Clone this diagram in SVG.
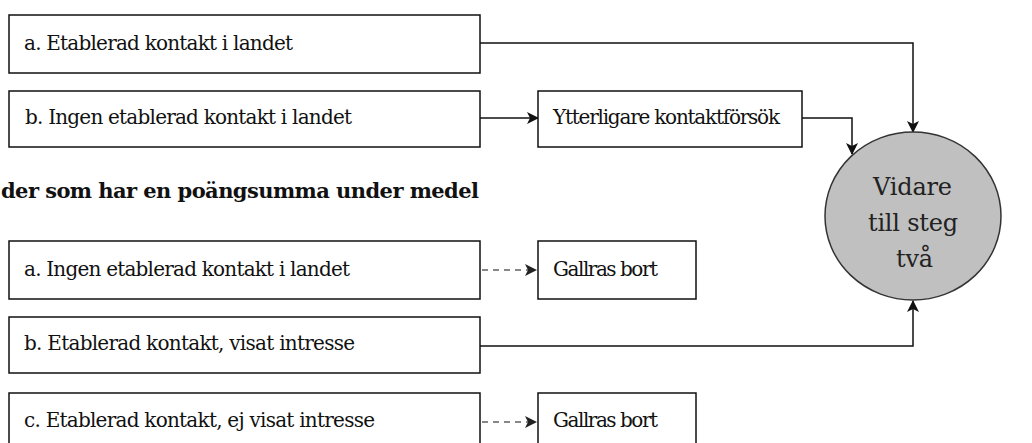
<svg xmlns="http://www.w3.org/2000/svg" width="1032" height="443" viewBox="0 0 1032 443">
  <style>
    text { font-family: "DejaVu Serif", serif; }
    .box { fill: #ffffff; stroke: #111111; stroke-width: 1.5; }
    .lbl { font-size: 20px; fill: #111111; }
    .head { font-size: 21px; font-weight: bold; fill: #111111; }
    .goal { font-size: 24px; fill: #222222; }
    .link { fill: none; stroke: #111111; stroke-width: 1.5; }
    .drop { fill: none; stroke: #888888; stroke-width: 2; stroke-dasharray: 6 5; }
  </style>
  <defs>
    <marker id="arrow" markerWidth="12" markerHeight="12" refX="11" refY="6" orient="auto" markerUnits="userSpaceOnUse">
      <path d="M0,0 L12,6 L0,12 L3,6 Z" fill="#111111"/>
    </marker>
    <marker id="arrowGrey" markerWidth="12" markerHeight="12" refX="11" refY="6" orient="auto" markerUnits="userSpaceOnUse">
      <path d="M0,0 L12,6 L0,12 L3,6 Z" fill="#222222"/>
    </marker>
  </defs>

  <rect width="1032" height="443" fill="#ffffff"/>

  <g id="connectors">
    <path class="link" d="M480,43 H913 V132" marker-end="url(#arrow)"/>
    <path class="link" d="M480,118 H538" marker-end="url(#arrow)"/>
    <path class="link" d="M802,118 H852 V154" marker-end="url(#arrow)"/>
    <path class="drop" d="M482,270 H536" marker-end="url(#arrowGrey)"/>
    <path class="link" d="M480,346 H913 V301" marker-end="url(#arrow)"/>
    <path class="drop" d="M482,422 H536" marker-end="url(#arrowGrey)"/>
  </g>

  <g id="node-a-etablerad">
    <rect class="box" x="9" y="15" width="471" height="58"/>
    <text class="lbl" x="24" y="50" textLength="269" lengthAdjust="spacing">a. Etablerad kontakt i landet</text>
  </g>

  <g id="node-b-ingen">
    <rect class="box" x="9" y="91" width="471" height="56"/>
    <text class="lbl" x="25" y="124" textLength="327" lengthAdjust="spacing">b. Ingen etablerad kontakt i landet</text>
  </g>

  <g id="node-ytterligare">
    <rect class="box" x="538" y="91" width="264" height="56"/>
    <text class="lbl" x="553" y="124" textLength="227" lengthAdjust="spacing">Ytterligare kontaktförsök</text>
  </g>

  <g id="heading">
    <text class="head" x="1" y="198" textLength="478" lengthAdjust="spacing">der som har en poängsumma under medel</text>
  </g>

  <g id="node-a-ingen">
    <rect class="box" x="9" y="241" width="471" height="58"/>
    <text class="lbl" x="24" y="276" textLength="326" lengthAdjust="spacing">a. Ingen etablerad kontakt i landet</text>
  </g>

  <g id="node-gallras-1">
    <rect class="box" x="538" y="241" width="158" height="58"/>
    <text class="lbl" x="553" y="276" textLength="105" lengthAdjust="spacing">Gallras bort</text>
  </g>

  <g id="node-b-visat">
    <rect class="box" x="9" y="317" width="471" height="56"/>
    <text class="lbl" x="24" y="350" textLength="331" lengthAdjust="spacing">b. Etablerad kontakt, visat intresse</text>
  </g>

  <g id="node-c-ej-visat">
    <rect class="box" x="9" y="393" width="471" height="58"/>
    <text class="lbl" x="24" y="427" textLength="351" lengthAdjust="spacing">c. Etablerad kontakt, ej visat intresse</text>
  </g>

  <g id="node-gallras-2">
    <rect class="box" x="538" y="393" width="158" height="58"/>
    <text class="lbl" x="553" y="427" textLength="105" lengthAdjust="spacing">Gallras bort</text>
  </g>

  <g id="node-vidare">
    <ellipse cx="913" cy="216" rx="88" ry="84" fill="#c0c0c0" stroke="#333333" stroke-width="1.5"/>
    <text class="goal" x="873" y="195" textLength="79" lengthAdjust="spacing">Vidare</text>
    <text class="goal" x="868" y="231" textLength="90" lengthAdjust="spacing">till steg</text>
    <text class="goal" x="896" y="267" textLength="37" lengthAdjust="spacing">två</text>
  </g>
</svg>
